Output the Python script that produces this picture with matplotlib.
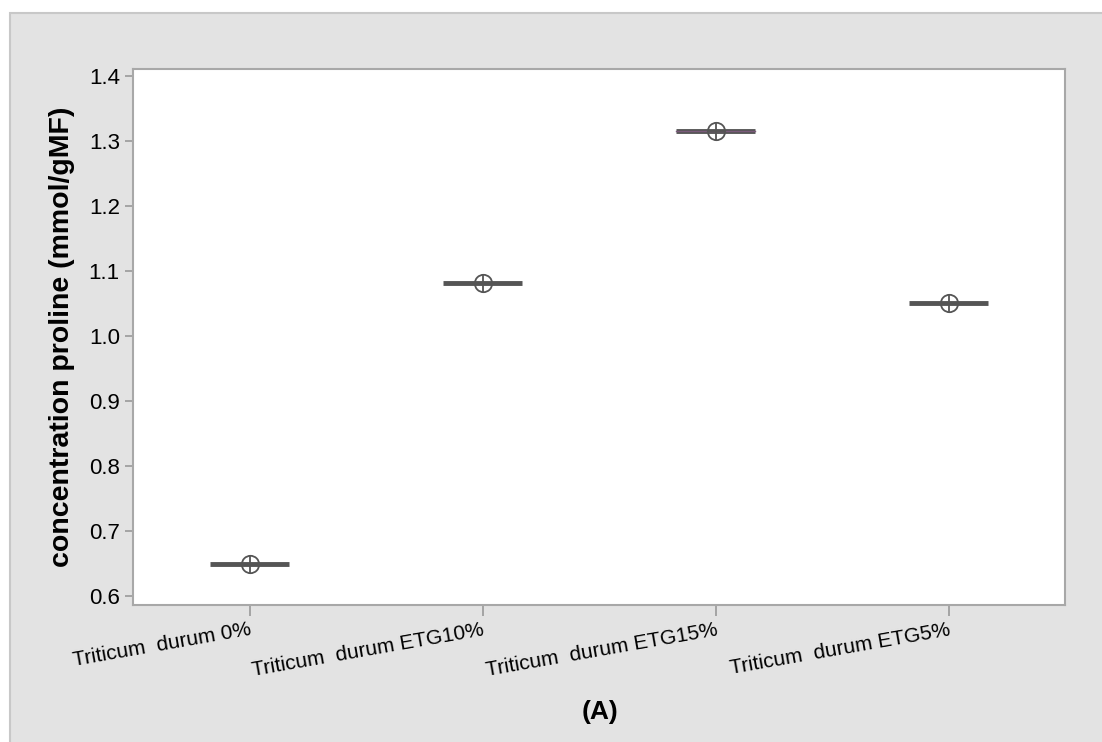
import matplotlib.pyplot as plt
from matplotlib.patches import Rectangle

plt.rcParams['font.family'] = ['Liberation Sans', 'DejaVu Sans']

groups = ['Triticum  durum 0%', 'Triticum  durum ETG10%', 'Triticum  durum ETG15%', 'Triticum  durum ETG5%']
values = [0.649, 1.082, 1.316, 1.051]
yticks = [0.6, 0.7, 0.8, 0.9, 1.0, 1.1, 1.2, 1.3, 1.4]

W, H = 1102, 742
fig = plt.figure(figsize=(W / 100, H / 100), dpi=100)
fig.patch.set_facecolor('white')
bg = Rectangle((10 / W, -0.01), 1.1, (H - 13) / H + 0.01, transform=fig.transFigure,
               facecolor='#e3e3e3', edgecolor='#c8c8c8', linewidth=1.5, zorder=-10)
fig.patches.append(bg)

ax = fig.add_axes([133 / W, (H - 605) / H, (1065 - 133) / W, (605 - 69) / H])
ax.set_facecolor('white')

x = list(range(1, len(groups) + 1))
for xi, v in zip(x, values):
    ax.plot([xi - 0.17, xi + 0.17], [v, v], color='#555555', lw=3.5, solid_capstyle='butt', zorder=2)
ax.plot([3 - 0.17, 3 + 0.17], [values[2], values[2]], color='#7a5a7a', lw=1, zorder=3)
ax.plot(x, values, linestyle='None', marker='o', ms=12.5, mfc='none', mec='#555555', mew=1.3, zorder=4)
ax.plot(x, values, linestyle='None', marker='+', ms=12.5, mec='#555555', mew=1.3, zorder=4)

ax.set_xlim(0.5, 4.5)
ax.set_ylim(0.5862, 1.4108)
ax.set_yticks(yticks)
ax.set_yticklabels(['%.1f' % t for t in yticks])
ax.set_xticks(x)
ax.set_xticklabels(groups, rotation=10, ha='right', rotation_mode='anchor', fontsize=15)
ax.tick_params(axis='y', labelsize=16, colors='#999999', labelcolor='black', length=6, width=1.2)
ax.tick_params(axis='x', colors='#999999', labelcolor='black', length=8, width=1.2, pad=3)
for s in ax.spines.values():
    s.set_color('#a8a8a8')
    s.set_linewidth(1.5)

ax.set_ylabel('concentration proline (mmol/gMF)', fontsize=20.5, fontweight='bold', labelpad=10)
fig.text(600 / W, 1 - 712 / H, '(A)', fontsize=19, fontweight='bold', ha='center', va='center')

fig.savefig('out.png', dpi=100)
